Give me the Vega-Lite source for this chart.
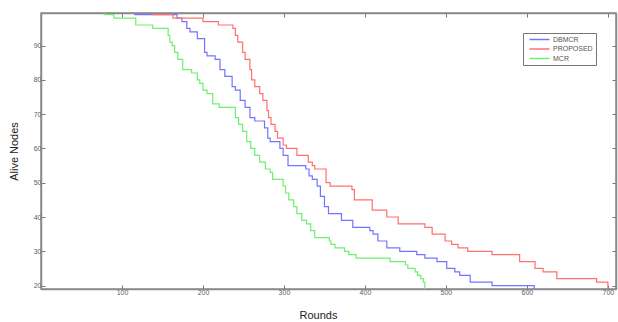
{
  "$schema": "https://vega.github.io/schema/vega-lite/v6.json",
  "width": 575,
  "height": 276,
  "autosize": {"type": "none"},
  "padding": {"left": 41, "top": 13, "right": 2, "bottom": 33},
  "background": "white",
  "config": {
    "view": {"stroke": "#8a8a8a", "strokeWidth": 1.5},
    "font": "Liberation Sans",
    "axis": {
      "domainColor": "#8a8a8a",
      "domainWidth": 1.5,
      "tickColor": "#777777",
      "tickWidth": 1,
      "tickSize": -4,
      "grid": false,
      "labelFont": "Liberation Sans",
      "labelFontSize": 7,
      "labelColor": "#5a5a70",
      "titleFont": "Liberation Sans",
      "titleFontSize": 11,
      "titleFontWeight": "normal",
      "titleColor": "#222222"
    }
  },
  "data": {
    "values": [
      {"series": "DBMCR", "round": 0, "nodes": 100},
      {"series": "DBMCR", "round": 116, "nodes": 99},
      {"series": "DBMCR", "round": 168, "nodes": 98},
      {"series": "DBMCR", "round": 174, "nodes": 97},
      {"series": "DBMCR", "round": 180, "nodes": 95},
      {"series": "DBMCR", "round": 184, "nodes": 94},
      {"series": "DBMCR", "round": 193, "nodes": 92},
      {"series": "DBMCR", "round": 202, "nodes": 88},
      {"series": "DBMCR", "round": 205, "nodes": 87},
      {"series": "DBMCR", "round": 215, "nodes": 86},
      {"series": "DBMCR", "round": 221, "nodes": 83},
      {"series": "DBMCR", "round": 227, "nodes": 81},
      {"series": "DBMCR", "round": 236, "nodes": 78},
      {"series": "DBMCR", "round": 240, "nodes": 77},
      {"series": "DBMCR", "round": 246, "nodes": 74},
      {"series": "DBMCR", "round": 252, "nodes": 72},
      {"series": "DBMCR", "round": 258, "nodes": 69},
      {"series": "DBMCR", "round": 264, "nodes": 68},
      {"series": "DBMCR", "round": 276, "nodes": 66},
      {"series": "DBMCR", "round": 280, "nodes": 63},
      {"series": "DBMCR", "round": 283, "nodes": 62},
      {"series": "DBMCR", "round": 295, "nodes": 60},
      {"series": "DBMCR", "round": 299, "nodes": 58},
      {"series": "DBMCR", "round": 305, "nodes": 55},
      {"series": "DBMCR", "round": 327, "nodes": 54},
      {"series": "DBMCR", "round": 331, "nodes": 52},
      {"series": "DBMCR", "round": 335, "nodes": 51},
      {"series": "DBMCR", "round": 341, "nodes": 49},
      {"series": "DBMCR", "round": 345, "nodes": 46},
      {"series": "DBMCR", "round": 350, "nodes": 43},
      {"series": "DBMCR", "round": 355, "nodes": 41},
      {"series": "DBMCR", "round": 371, "nodes": 39},
      {"series": "DBMCR", "round": 385, "nodes": 37},
      {"series": "DBMCR", "round": 406, "nodes": 36},
      {"series": "DBMCR", "round": 410, "nodes": 35},
      {"series": "DBMCR", "round": 416, "nodes": 33},
      {"series": "DBMCR", "round": 427, "nodes": 31},
      {"series": "DBMCR", "round": 443, "nodes": 30},
      {"series": "DBMCR", "round": 464, "nodes": 29},
      {"series": "DBMCR", "round": 474, "nodes": 28},
      {"series": "DBMCR", "round": 489, "nodes": 27},
      {"series": "DBMCR", "round": 501, "nodes": 25},
      {"series": "DBMCR", "round": 511, "nodes": 24},
      {"series": "DBMCR", "round": 517, "nodes": 23},
      {"series": "DBMCR", "round": 530, "nodes": 21},
      {"series": "DBMCR", "round": 557, "nodes": 20},
      {"series": "DBMCR", "round": 609, "nodes": 18},
      {"series": "PROPOSED", "round": 0, "nodes": 100},
      {"series": "PROPOSED", "round": 137, "nodes": 99},
      {"series": "PROPOSED", "round": 163, "nodes": 98},
      {"series": "PROPOSED", "round": 200, "nodes": 97},
      {"series": "PROPOSED", "round": 219, "nodes": 96},
      {"series": "PROPOSED", "round": 237, "nodes": 95},
      {"series": "PROPOSED", "round": 240, "nodes": 93},
      {"series": "PROPOSED", "round": 243, "nodes": 91},
      {"series": "PROPOSED", "round": 249, "nodes": 88},
      {"series": "PROPOSED", "round": 252, "nodes": 86},
      {"series": "PROPOSED", "round": 258, "nodes": 83},
      {"series": "PROPOSED", "round": 260, "nodes": 80},
      {"series": "PROPOSED", "round": 264, "nodes": 78},
      {"series": "PROPOSED", "round": 270, "nodes": 76},
      {"series": "PROPOSED", "round": 274, "nodes": 74},
      {"series": "PROPOSED", "round": 279, "nodes": 71},
      {"series": "PROPOSED", "round": 281, "nodes": 69},
      {"series": "PROPOSED", "round": 284, "nodes": 67},
      {"series": "PROPOSED", "round": 289, "nodes": 65},
      {"series": "PROPOSED", "round": 292, "nodes": 63},
      {"series": "PROPOSED", "round": 299, "nodes": 61},
      {"series": "PROPOSED", "round": 303, "nodes": 60},
      {"series": "PROPOSED", "round": 316, "nodes": 58},
      {"series": "PROPOSED", "round": 330, "nodes": 56},
      {"series": "PROPOSED", "round": 335, "nodes": 55},
      {"series": "PROPOSED", "round": 338, "nodes": 54},
      {"series": "PROPOSED", "round": 352, "nodes": 50},
      {"series": "PROPOSED", "round": 357, "nodes": 49},
      {"series": "PROPOSED", "round": 384, "nodes": 48},
      {"series": "PROPOSED", "round": 387, "nodes": 45},
      {"series": "PROPOSED", "round": 409, "nodes": 42},
      {"series": "PROPOSED", "round": 427, "nodes": 40},
      {"series": "PROPOSED", "round": 441, "nodes": 38},
      {"series": "PROPOSED", "round": 474, "nodes": 37},
      {"series": "PROPOSED", "round": 483, "nodes": 35},
      {"series": "PROPOSED", "round": 499, "nodes": 33},
      {"series": "PROPOSED", "round": 507, "nodes": 32},
      {"series": "PROPOSED", "round": 515, "nodes": 31},
      {"series": "PROPOSED", "round": 527, "nodes": 30},
      {"series": "PROPOSED", "round": 557, "nodes": 29},
      {"series": "PROPOSED", "round": 591, "nodes": 27},
      {"series": "PROPOSED", "round": 610, "nodes": 25},
      {"series": "PROPOSED", "round": 620, "nodes": 24},
      {"series": "PROPOSED", "round": 637, "nodes": 22},
      {"series": "PROPOSED", "round": 686, "nodes": 21},
      {"series": "PROPOSED", "round": 700, "nodes": 18},
      {"series": "MCR", "round": 0, "nodes": 100},
      {"series": "MCR", "round": 78, "nodes": 99},
      {"series": "MCR", "round": 90, "nodes": 98},
      {"series": "MCR", "round": 117, "nodes": 96},
      {"series": "MCR", "round": 138, "nodes": 95},
      {"series": "MCR", "round": 157, "nodes": 93},
      {"series": "MCR", "round": 159, "nodes": 91},
      {"series": "MCR", "round": 162, "nodes": 90},
      {"series": "MCR", "round": 165, "nodes": 88},
      {"series": "MCR", "round": 169, "nodes": 86},
      {"series": "MCR", "round": 175, "nodes": 83},
      {"series": "MCR", "round": 186, "nodes": 82},
      {"series": "MCR", "round": 193, "nodes": 80},
      {"series": "MCR", "round": 196, "nodes": 79},
      {"series": "MCR", "round": 200, "nodes": 77},
      {"series": "MCR", "round": 205, "nodes": 76},
      {"series": "MCR", "round": 212, "nodes": 73},
      {"series": "MCR", "round": 220, "nodes": 72},
      {"series": "MCR", "round": 240, "nodes": 69},
      {"series": "MCR", "round": 244, "nodes": 67},
      {"series": "MCR", "round": 249, "nodes": 65},
      {"series": "MCR", "round": 254, "nodes": 62},
      {"series": "MCR", "round": 259, "nodes": 60},
      {"series": "MCR", "round": 264, "nodes": 58},
      {"series": "MCR", "round": 270, "nodes": 56},
      {"series": "MCR", "round": 277, "nodes": 54},
      {"series": "MCR", "round": 283, "nodes": 53},
      {"series": "MCR", "round": 286, "nodes": 51},
      {"series": "MCR", "round": 299, "nodes": 49},
      {"series": "MCR", "round": 302, "nodes": 47},
      {"series": "MCR", "round": 306, "nodes": 45},
      {"series": "MCR", "round": 312, "nodes": 43},
      {"series": "MCR", "round": 316, "nodes": 41},
      {"series": "MCR", "round": 322, "nodes": 39},
      {"series": "MCR", "round": 328, "nodes": 38},
      {"series": "MCR", "round": 333, "nodes": 36},
      {"series": "MCR", "round": 338, "nodes": 34},
      {"series": "MCR", "round": 356, "nodes": 33},
      {"series": "MCR", "round": 358, "nodes": 32},
      {"series": "MCR", "round": 363, "nodes": 31},
      {"series": "MCR", "round": 375, "nodes": 30},
      {"series": "MCR", "round": 380, "nodes": 29},
      {"series": "MCR", "round": 389, "nodes": 28},
      {"series": "MCR", "round": 431, "nodes": 27},
      {"series": "MCR", "round": 450, "nodes": 26},
      {"series": "MCR", "round": 453, "nodes": 25},
      {"series": "MCR", "round": 462, "nodes": 24},
      {"series": "MCR", "round": 465, "nodes": 23},
      {"series": "MCR", "round": 469, "nodes": 22},
      {"series": "MCR", "round": 472, "nodes": 21},
      {"series": "MCR", "round": 474, "nodes": 18}
    ]
  },
  "layer": [
    {
      "mark": {"type": "line", "interpolate": "step-after", "strokeWidth": 1.2, "clip": true},
      "encoding": {
        "x": {
          "field": "round", "type": "quantitative",
          "scale": {"domain": [0, 710], "nice": false, "zero": false},
          "axis": {"orient": "bottom", "values": [100, 200, 300, 400, 500, 600, 700], "title": "Rounds", "titlePadding": 14, "titleX": 277, "labelPadding": 3}
        },
        "y": {
          "field": "nodes", "type": "quantitative",
          "scale": {"domain": [19, 99.5], "nice": false, "zero": false},
          "axis": {"orient": "left", "values": [20, 30, 40, 50, 60, 70, 80, 90], "title": "Alive Nodes", "titlePadding": 14, "labelPadding": 4}
        },
        "color": {
          "field": "series", "type": "nominal",
          "scale": {"domain": ["DBMCR", "PROPOSED", "MCR"], "range": ["#7474ff", "#ff7070", "#70ee70"]},
          "legend": {
            "title": null, "orient": "none", "legendX": 482, "legendY": 20,
            "symbolType": "M0,0H10", "symbolSize": 16, "symbolStrokeWidth": 1.5,
            "strokeColor": "#777777", "fillColor": "white", "padding": 3,
            "labelFontSize": 7, "labelColor": "#555555", "labelOffset": 20, "rowPadding": 1.5
          }
        }
      }
    },
    {
      "mark": {"type": "line", "opacity": 0},
      "encoding": {
        "x": {"field": "round", "type": "quantitative", "axis": {"orient": "top", "values": [100, 200, 300, 400, 500, 600, 700], "labels": false, "title": null}},
        "y": {"field": "nodes", "type": "quantitative", "axis": {"orient": "right", "values": [20, 30, 40, 50, 60, 70, 80, 90], "labels": false, "title": null}}
      }
    }
  ],
  "resolve": {"axis": {"x": "independent", "y": "independent"}}
}
